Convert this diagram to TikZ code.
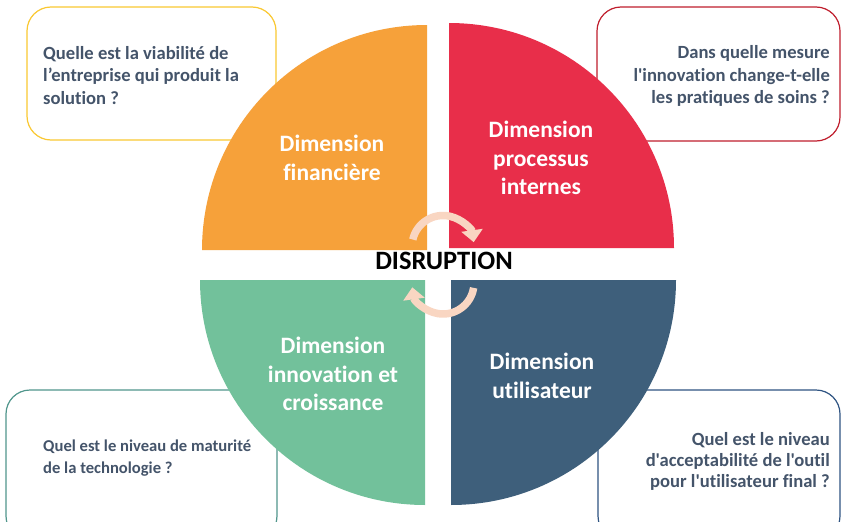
\documentclass[tikz,border=0pt]{standalone}
\usepackage{fontspec}
\newfontfamily\cf{Carlito}[Ligatures={NoCommon,NoContextual}]
\usetikzlibrary{arrows.meta}
\definecolor{qorange}{RGB}{246,161,58}
\definecolor{qred}{RGB}{232,46,74}
\definecolor{qgreen}{RGB}{114,193,155}
\definecolor{qblue}{RGB}{62,95,123}
\definecolor{byellow}{RGB}{250,200,50}
\definecolor{bred}{RGB}{192,30,45}
\definecolor{bteal}{RGB}{80,150,140}
\definecolor{bblue}{RGB}{47,84,130}
\definecolor{qtextcol}{RGB}{68,84,106}
\definecolor{peach}{RGB}{249,214,194}
\begin{document}
\begin{tikzpicture}[x=1pt,y=-1pt,
  qbox/.style={line width=1.2pt, rounded corners=24pt, fill=white},
  qtext/.style={text=qtextcol, font=\cf\bfseries\fontsize{18.6}{22.5}\selectfont, inner sep=0pt},
  qtextsmall/.style={text=qtextcol, font=\cf\bfseries\fontsize{16.6}{21.5}\selectfont, inner sep=0pt},
  dimtext/.style={text=white, align=center, font=\cf\bfseries\fontsize{23.5}{28.5}\selectfont, inner sep=0pt},
  cyclearrow/.style={peach, line width=7.5pt, -{Triangle[width=21pt,length=12pt]}}
]
\useasboundingbox (0,0) rectangle (841,522);
\fill[white] (0,0) rectangle (841,522);
% question boxes
\draw[qbox, draw=byellow] (27,7) rectangle (276,140);
\draw[qbox, draw=bred] (597,7) rectangle (840,141);
\draw[qbox, draw=bteal] (6,390) rectangle (277,540);
\draw[qbox, draw=bblue] (598,390) rectangle (840,540);
\node[qtext, anchor=west, align=left] (t1) at (43,75.5) {Quelle est la viabilité de\\l’entreprise qui produit la\\solution ?};
\node[qtext, anchor=east, align=right] (t2) at (830,76) {Dans quelle mesure\\l'innovation change-t-elle\\les pratiques de soins ?};
\node[qtextsmall, anchor=west, align=left] (t3) at (43,458) {Quel est le niveau de maturité\\de la technologie ?};
\node[qtext, anchor=east, align=right, font=\cf\bfseries\fontsize{18.6}{21}\selectfont] (t4) at (830,461) {Quel est le niveau\\d'acceptabilité de l'outil\\pour l'utilisateur final ?};
% quadrants
\fill[qorange] (427,250) -- (202,250) arc[start angle=180, end angle=270, radius=225] -- cycle;
\fill[qred] (449,248) -- (449,23) arc[start angle=270, end angle=360, radius=225] -- cycle;
\fill[qgreen] (425,280) -- (200,280) arc[start angle=180, end angle=90, radius=225] -- cycle;
\fill[qblue] (451,280) -- (676,280) arc[start angle=0, end angle=90, radius=225] -- cycle;
\node[dimtext] (d1) at (332,158) {Dimension\\financière};
\node[dimtext] (d2) at (541,158) {Dimension\\processus\\internes};
\node[dimtext] (d3) at (333,374) {Dimension\\innovation et\\croissance};
\node[dimtext] (d4) at (542,376) {Dimension\\utilisateur};
% cycle arrows
\coordinate (c1) at (443,246.5);
\coordinate (c2) at (443,283);
\draw[cyclearrow] ([shift={(193:31)}]c1) arc[start angle=193, end angle=352, radius=31];
\draw[cyclearrow] ([shift={(9:31)}]c2) arc[start angle=9, end angle=172, radius=31];
\node[font=\cf\bfseries\fontsize{26.5}{30}\selectfont, inner sep=0pt] (dis) at (444,261) {DISRUPTION};
\end{tikzpicture}
\end{document}
